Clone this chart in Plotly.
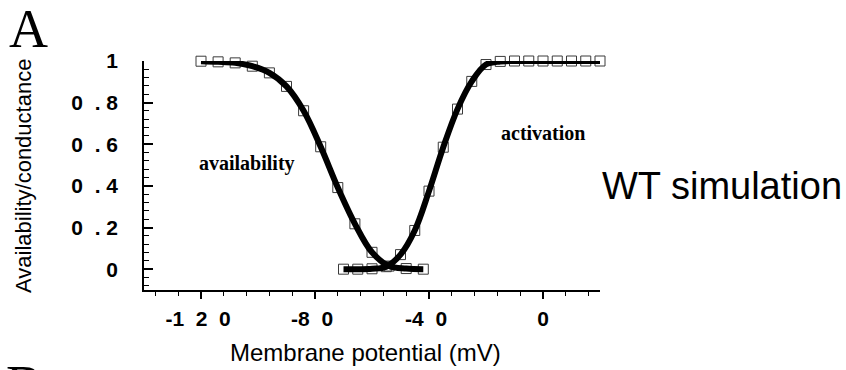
import plotly.graph_objects as go

NB = "\u00a0"

# availability (inactivation) simulation points
avail_v = [-120, -114, -108, -102, -96, -90, -84, -78, -72, -66, -60, -54, -48, -42]
avail_y = [0.999, 0.996, 0.991, 0.975, 0.943, 0.878, 0.761, 0.588, 0.392, 0.218, 0.081, 0.015, 0.003, 0.0]

# activation (conductance) simulation points
act_v = [-70, -65, -60, -55, -50, -45, -40, -35, -30, -25, -20, -15, -10, -5, 0, 5, 10, 15, 20]
act_y = [0.0, 0.0, 0.002, 0.012, 0.07, 0.186, 0.375, 0.586, 0.769, 0.902, 0.983, 0.998, 1.0, 1.0, 1.0, 1.0, 1.0, 1.0, 1.0]

x_tickvals = [-120, -80, -40, 0]
x_ticktext = ["-1" + NB * 2 + "2" + NB * 2 + "0" + NB, "-8" + NB * 2 + "0" + NB, "-4" + NB * 2 + "0" + NB, "0"]
y_tickvals = [0, 0.2, 0.4, 0.6, 0.8, 1]
y_ticktext = ["0", "0" + NB * 2 + "." + NB + "2", "0" + NB * 2 + "." + NB + "4",
              "0" + NB * 2 + "." + NB + "6", "0" + NB * 2 + "." + NB + "8", "1"]

SANS = "Liberation Sans, Arial, sans-serif"
SERIF = "Liberation Serif, Times New Roman, serif"

fig = go.Figure()

marker_style = dict(symbol="square-open", size=10, color="#3a3a3a", line=dict(width=1, color="#3a3a3a"))
fig.add_trace(go.Scatter(x=avail_v, y=avail_y, mode="markers", marker=marker_style, cliponaxis=False, showlegend=False))
fig.add_trace(go.Scatter(x=act_v, y=act_y, mode="markers", marker=marker_style, cliponaxis=False, showlegend=False))
fig.add_trace(go.Scatter(x=avail_v, y=avail_y, mode="lines", line=dict(color="black", width=6, shape="spline", smoothing=1.0),
                         cliponaxis=False, showlegend=False))
fig.add_trace(go.Scatter(x=act_v, y=act_y, mode="lines", line=dict(color="black", width=6, shape="spline", smoothing=1.0),
                         cliponaxis=False, showlegend=False))

fig.update_layout(
    width=846, height=370,
    margin=dict(l=144, r=246, t=61, b=80),
    paper_bgcolor="white", plot_bgcolor="white",
    xaxis=dict(
        range=[-140, 20], showgrid=False, zeroline=False,
        showline=True, linecolor="black", linewidth=1.5,
        tickmode="array", tickvals=x_tickvals, ticktext=x_ticktext,
        ticks="outside", ticklen=7, tickwidth=1.5, tickcolor="black",
        tickfont=dict(family=SANS, size=21, color="black", weight="bold"),
        ticklabelstandoff=2,
        minor=dict(tickmode="linear", tick0=-120, dtick=8, ticks="outside", ticklen=4, tickwidth=1.2, tickcolor="black"),
    ),
    yaxis=dict(
        range=[-0.1, 1.0], showgrid=False, zeroline=False,
        showline=True, linecolor="black", linewidth=1.5,
        tickmode="array", tickvals=y_tickvals, ticktext=y_ticktext,
        ticks="inside", ticklen=9, tickwidth=1.5, tickcolor="black",
        tickfont=dict(family=SANS, size=21, color="black", weight="bold"),
        ticklabelstandoff=20,
        minor=dict(tickmode="linear", tick0=0, dtick=0.04, ticks="inside", ticklen=5, tickwidth=1.2, tickcolor="black"),
    ),
    annotations=[
        dict(text="availability", x=-104, y=0.51, xref="x", yref="y", showarrow=False,
             font=dict(family=SERIF, size=20, color="black", weight="bold")),
        dict(text="activation", x=0, y=0.655, xref="x", yref="y", showarrow=False,
             font=dict(family=SERIF, size=20, color="black", weight="bold")),
        dict(text="WT simulation", x=1.0, y=(290 - 186) / 229, xref="paper", yref="paper",
             xanchor="left", yanchor="middle", showarrow=False,
             font=dict(family=SANS, size=38, color="black")),
        dict(text="Availability/conductance", x=(23 - 144) / 456, y=(290 - 176) / 229, xref="paper", yref="paper",
             textangle=-90, xanchor="center", yanchor="middle", showarrow=False,
             font=dict(family=SANS, size=22, color="black")),
        dict(text="Membrane potential (mV)", x=(365 - 144) / 456, y=(290 - 352) / 229, xref="paper", yref="paper",
             xanchor="center", yanchor="middle", showarrow=False,
             font=dict(family=SANS, size=24, color="black")),
        dict(text="A", x=(28 - 144) / 456, y=(290 - 29) / 229, xref="paper", yref="paper",
             xanchor="center", yanchor="middle", showarrow=False,
             font=dict(family=SERIF, size=54, color="black")),
        dict(text="B", x=(24 - 144) / 456, y=(290 - 385) / 229, xref="paper", yref="paper",
             xanchor="center", yanchor="middle", showarrow=False,
             font=dict(family=SERIF, size=54, color="black")),
    ],
)

fig.write_html("out.html")
